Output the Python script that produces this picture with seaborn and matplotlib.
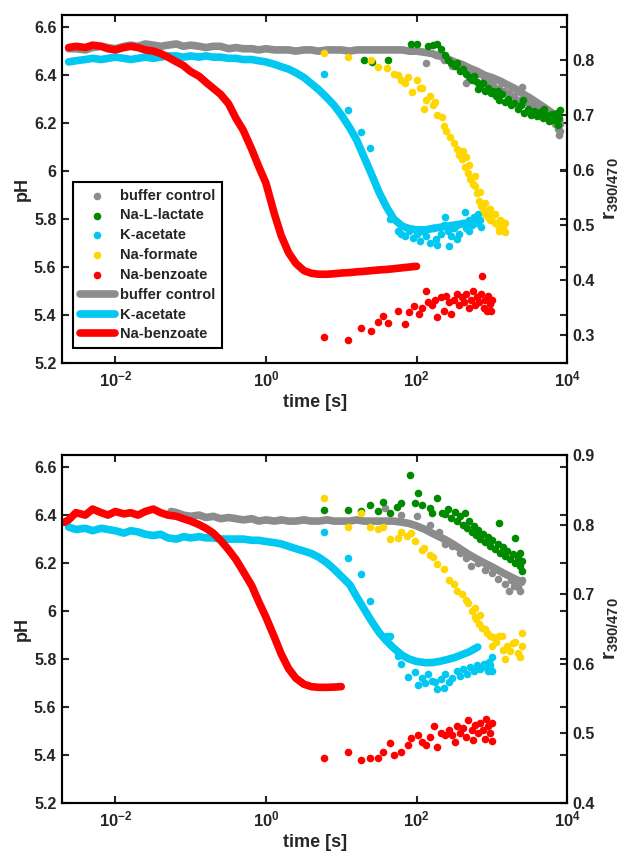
import matplotlib
matplotlib.use('Agg')
import numpy as np
import pandas as pd
import seaborn as sns
import matplotlib.pyplot as plt
import matplotlib.ticker as ticker

#%% data - thick traces (pH, left axis) and single readings (r390/470, right axis)

# common time grid of the thick traces [s]
T_LINE = [0.0024, 0.003, 0.004, 0.005, 0.0065, 0.008, 0.01, 0.013, 0.016, 0.02,
          0.025, 0.032, 0.04, 0.05, 0.065, 0.08, 0.1, 0.13, 0.16, 0.2,
          0.25, 0.32, 0.4, 0.5, 0.65, 0.8, 1, 1.3, 1.6, 2,
          2.5, 3.2, 4, 5, 6.5, 8, 10, 13, 16, 20,
          25, 32, 40, 50, 65, 80, 100, 130, 160, 200,
          250, 320, 400, 500, 650, 800, 1000, 1300, 1600, 2000,
          2500, 3200, 4000, 5000, 6500, 8000]

# top panel traces
ph_gray_top = [6.51, 6.51, 6.505, 6.515, 6.52, 6.515, 6.51, 6.52, 6.525, 6.52,
               6.53, 6.525, 6.52, 6.525, 6.53, 6.52, 6.525, 6.52, 6.515, 6.52,
               6.52, 6.51, 6.515, 6.51, 6.51, 6.505, 6.51, 6.505, 6.505, 6.505,
               6.5, 6.505, 6.505, 6.5, 6.505, 6.505, 6.505, 6.5, 6.505, 6.505,
               6.505, 6.505, 6.505, 6.505, 6.505, 6.5, 6.5, 6.495, 6.49, 6.48,
               6.47, 6.455, 6.445, 6.43, 6.415, 6.4, 6.39, 6.375, 6.36, 6.345,
               6.325, 6.305, 6.285, 6.265, 6.24, 6.21]
ph_cyan_top = [6.455, 6.46, 6.465, 6.47, 6.465, 6.47, 6.475, 6.47, 6.465, 6.47,
               6.475, 6.47, 6.475, 6.48, 6.48, 6.475, 6.48, 6.475, 6.48, 6.475,
               6.475, 6.47, 6.47, 6.465, 6.465, 6.46, 6.455, 6.445, 6.435, 6.425,
               6.41, 6.39, 6.365, 6.34, 6.305, 6.275, 6.235, 6.18, 6.13, 6.06,
               5.99, 5.91, 5.85, 5.8, 5.77, 5.76, 5.755, 5.755, 5.76, 5.765,
               5.77, 5.775, 5.78, 5.785, 5.79]
ph_red_top = [6.515, 6.52, 6.515, 6.525, 6.52, 6.51, 6.505, 6.515, 6.52, 6.515,
              6.505, 6.5, 6.49, 6.475, 6.455, 6.44, 6.415, 6.395, 6.37, 6.345,
              6.32, 6.28, 6.22, 6.17, 6.09, 6.02, 5.95, 5.82, 5.73, 5.66,
              5.615, 5.585, 5.574, 5.57, 5.57, 5.572, 5.575, 5.577, 5.58, 5.582,
              5.585, 5.588, 5.59, 5.593, 5.597, 5.6, 5.603]

# bottom panel traces
t_gray_bot = [0.055] + T_LINE[14:61]
ph_gray_bot = [6.415, 6.41, 6.4, 6.395, 6.4, 6.39, 6.395, 6.385, 6.39, 6.385,
               6.38, 6.385, 6.375, 6.38, 6.375, 6.38, 6.375, 6.375, 6.38, 6.375,
               6.375, 6.38, 6.375, 6.375, 6.375, 6.38, 6.375, 6.375, 6.375, 6.375,
               6.375, 6.37, 6.365, 6.355, 6.34, 6.325, 6.31, 6.295, 6.275, 6.255,
               6.235, 6.215, 6.2, 6.185, 6.165, 6.15, 6.135, 6.12]
ph_cyan_bot = [6.35, 6.34, 6.345, 6.335, 6.345, 6.34, 6.335, 6.325, 6.335, 6.33,
               6.32, 6.315, 6.32, 6.305, 6.3, 6.31, 6.305, 6.31, 6.305, 6.305,
               6.3, 6.3, 6.3, 6.3, 6.295, 6.295, 6.29, 6.285, 6.28, 6.27,
               6.26, 6.25, 6.24, 6.225, 6.2, 6.175, 6.145, 6.11, 6.06, 6.01,
               5.96, 5.91, 5.875, 5.845, 5.815, 5.8, 5.79, 5.785, 5.785, 5.79,
               5.797, 5.806, 5.818, 5.83, 5.85]
t_red_bot = [0.0021] + T_LINE[:37]
ph_red_bot = [6.37, 6.38, 6.41, 6.4, 6.425, 6.41, 6.4, 6.415, 6.405, 6.41, 6.4,
              6.415, 6.425, 6.41, 6.4, 6.395, 6.385, 6.375, 6.36, 6.345, 6.325,
              6.295, 6.255, 6.215, 6.165, 6.105, 6.04, 5.975, 5.89, 5.82, 5.76,
              5.72, 5.695, 5.685, 5.682, 5.682, 5.683, 5.685]

# top panel single readings (time [s], r390/470)
t_gray_dots_top = [135, 180, 230, 300, 380, 460, 550, 650, 780, 900, 1050, 1250, 1450, 1700, 2000,
                   2300, 2500, 2800, 3200, 3700, 4300, 5000, 5800, 6500, 7000, 7500, 7800, 8000, 8000]
r_gray_dots_top = [0.795, 0.81, 0.80, 0.79, 0.785, 0.758, 0.78, 0.775, 0.768, 0.762, 0.755, 0.75, 0.745, 0.74, 0.735,
                   0.728, 0.751, 0.725, 0.72, 0.715, 0.71, 0.705, 0.70, 0.69, 0.685, 0.675, 0.665, 0.672, 0.685]
t_green_top = [20, 26, 42, 85, 100, 140, 165, 185, 210, 240, 260, 290, 320, 350, 380, 420, 460, 500, 540, 580,
               640, 700, 760, 820, 900, 980, 1050, 1150, 1250, 1350, 1500, 1650, 1800, 2000, 2200, 2450, 2700,
               3000, 3300, 3600, 4000, 4400, 4800, 5300, 5800, 6300, 6800, 7300, 7700, 8000, 7600, 5000, 2600,
               1200, 650]
r_green_top = [0.80, 0.797, 0.80, 0.83, 0.83, 0.826, 0.828, 0.83, 0.82, 0.81, 0.80, 0.795, 0.79, 0.795, 0.78,
               0.785, 0.775, 0.77, 0.765, 0.772, 0.76, 0.752, 0.758, 0.745, 0.75, 0.74, 0.745, 0.735, 0.728,
               0.738, 0.725, 0.73, 0.718, 0.722, 0.712, 0.718, 0.705, 0.712, 0.70, 0.708, 0.698, 0.706, 0.695,
               0.70, 0.69, 0.702, 0.692, 0.705, 0.695, 0.71, 0.682, 0.712, 0.728, 0.745, 0.748]
t_cyan_top = [5.9, 12.3, 18.5, 24, 45, 57, 62, 70, 80, 90, 100, 110, 120, 135, 150, 165, 180, 190, 210, 230,
              240, 260, 270, 290, 310, 340, 370, 400, 440, 460, 500, 540, 580, 620, 660, 700, 720, 500, 350]
r_cyan_top = [0.775, 0.71, 0.67, 0.64, 0.511, 0.49, 0.485, 0.48, 0.49, 0.478, 0.485, 0.472, 0.49, 0.48, 0.468,
              0.495, 0.476, 0.465, 0.485, 0.50, 0.515, 0.49, 0.462, 0.48, 0.495, 0.50, 0.485, 0.505, 0.524,
              0.495, 0.51, 0.50, 0.515, 0.505, 0.52, 0.51, 0.498, 0.49, 0.475]
t_yellow_top = [5.9, 12.3, 25, 31, 40, 50, 57, 63, 70, 78, 86, 100, 110, 118, 125, 135, 150, 165, 175, 190,
                215, 230, 250, 280, 310, 340, 370, 400, 440, 480, 520, 560, 590, 630, 680, 720, 760, 800, 850,
                900, 950, 1000, 1100, 1200, 1300, 1350, 1400, 1450, 1500, 1500, 1250, 800, 700, 600, 500, 450,
                420, 1100, 950]
r_yellow_top = [0.813, 0.806, 0.80, 0.788, 0.786, 0.775, 0.773, 0.765, 0.758, 0.77, 0.742, 0.764, 0.75, 0.75,
                0.712, 0.728, 0.735, 0.718, 0.725, 0.70, 0.697, 0.68, 0.672, 0.66, 0.65, 0.638, 0.628, 0.62,
                0.607, 0.595, 0.585, 0.575, 0.571, 0.558, 0.545, 0.535, 0.53, 0.52, 0.525, 0.515, 0.51, 0.517,
                0.505, 0.50, 0.51, 0.506, 0.495, 0.49, 0.488, 0.505, 0.49, 0.54, 0.56, 0.59, 0.61, 0.625, 0.635,
                0.52, 0.53]
t_red_top = [5.9, 12.3, 18.5, 25, 31, 36, 42, 57, 70, 80, 94, 108, 120, 135, 140, 160, 175, 190, 210, 230,
             250, 270, 290, 310, 340, 370, 400, 430, 460, 500, 530, 560, 600, 640, 680, 720, 740, 780, 820,
             860, 900, 950, 1000, 980]
r_red_top = [0.298, 0.291, 0.313, 0.309, 0.325, 0.336, 0.322, 0.345, 0.32, 0.342, 0.354, 0.339, 0.35, 0.381,
             0.36, 0.355, 0.365, 0.334, 0.37, 0.345, 0.372, 0.36, 0.339, 0.365, 0.375, 0.355, 0.37, 0.36,
             0.375, 0.35, 0.365, 0.38, 0.355, 0.37, 0.36, 0.375, 0.408, 0.35, 0.365, 0.345, 0.372, 0.358,
             0.365, 0.345]

# bottom panel single readings
t_gray_dots_bot = [38, 63, 100, 150, 200, 230, 240, 300, 380, 450, 530, 650, 800, 1000, 1200, 1500, 1700,
                   2000, 2200, 2400, 2500, 1800]
r_gray_dots_bot = [0.824, 0.814, 0.812, 0.80, 0.79, 0.779, 0.772, 0.77, 0.76, 0.752, 0.74, 0.745, 0.735,
                   0.73, 0.722, 0.715, 0.704, 0.712, 0.711, 0.705, 0.72, 0.72]
t_green_bot = [5.9, 12.3, 18.5, 24, 31, 36, 45, 55, 63, 81, 95, 106, 118, 150, 160, 185, 215, 240, 260, 290,
               320, 350, 380, 420, 440, 470, 500, 540, 580, 620, 660, 700, 760, 820, 880, 950, 1020, 1100,
               1230, 1200, 1300, 1400, 1500, 1600, 1750, 1900, 2050, 2050, 2200, 2350, 2500, 2500, 2400]
r_green_bot = [0.821, 0.821, 0.819, 0.829, 0.819, 0.833, 0.817, 0.825, 0.831, 0.871, 0.831, 0.846, 0.829,
               0.824, 0.817, 0.838, 0.817, 0.815, 0.822, 0.81, 0.818, 0.805, 0.812, 0.80, 0.817, 0.795, 0.805,
               0.79, 0.798, 0.785, 0.792, 0.78, 0.787, 0.775, 0.782, 0.77, 0.778, 0.765, 0.803, 0.772, 0.76,
               0.768, 0.755, 0.762, 0.75, 0.758, 0.781, 0.745, 0.752, 0.74, 0.748, 0.733, 0.76]
t_cyan_bot = [5.9, 12.3, 18.5, 24, 40, 45, 57, 63, 78, 95, 106, 120, 140, 160, 175, 190, 210, 240, 270, 300,
              340, 380, 420, 470, 520, 580, 640, 700, 780, 850, 905, 950, 1000, 900, 1000, 230, 130]
r_cyan_bot = [0.79, 0.752, 0.729, 0.69, 0.64, 0.64, 0.611, 0.60, 0.581, 0.588, 0.569, 0.58, 0.585, 0.575,
              0.574, 0.564, 0.578, 0.585, 0.574, 0.58, 0.59, 0.582, 0.592, 0.585, 0.595, 0.59, 0.598, 0.592,
              0.60, 0.595, 0.603, 0.598, 0.61, 0.59, 0.59, 0.565, 0.572]
t_yellow_bot = [5.9, 12.3, 18.5, 24, 31, 36, 45, 57, 63, 75, 85, 95, 118, 125, 150, 165, 190, 230, 270, 310,
                350, 400, 450, 490, 540, 590, 620, 680, 750, 800, 870, 950, 1050, 1150, 1250, 1350, 1500, 1600,
                1750, 1900, 2050, 2200, 2400, 2500, 2500, 1400, 1000, 700, 600]
r_yellow_bot = [0.838, 0.797, 0.817, 0.796, 0.794, 0.797, 0.779, 0.781, 0.79, 0.784, 0.788, 0.776, 0.764,
                0.767, 0.757, 0.753, 0.743, 0.736, 0.721, 0.715, 0.705, 0.70, 0.692, 0.688, 0.676, 0.668,
                0.664, 0.657, 0.652, 0.65, 0.645, 0.64, 0.638, 0.632, 0.64, 0.64, 0.607, 0.625, 0.618, 0.63,
                0.631, 0.615, 0.61, 0.625, 0.645, 0.62, 0.625, 0.67, 0.68]
t_red_bot_dots = [5.9, 12.3, 18.5, 24, 31, 36, 45, 51, 63, 78, 85, 106, 120, 135, 150, 170, 190, 210, 240,
                  270, 300, 340, 380, 420, 460, 490, 540, 600, 650, 700, 760, 850, 900, 950, 1000, 1000, 800,
                  560, 320]
r_red_bot_dots = [0.464, 0.473, 0.462, 0.464, 0.465, 0.473, 0.486, 0.469, 0.473, 0.483, 0.493, 0.497, 0.487,
                  0.483, 0.495, 0.511, 0.481, 0.50, 0.497, 0.505, 0.498, 0.51, 0.50, 0.508, 0.495, 0.519, 0.505,
                  0.512, 0.50, 0.515, 0.505, 0.521, 0.51, 0.50, 0.489, 0.515, 0.492, 0.49, 0.488]

GRAY, GREEN, CYAN, YELLOW, RED = '#8c8c8c', '#008a00', '#00c8f0', '#ffd700', '#ff0000'

#%% style
sns.set_theme(style='white')
plt.rcParams['font.family'] = ['Liberation Sans', 'DejaVu Sans']
plt.rcParams['font.weight'] = 'bold'
plt.rcParams['axes.labelweight'] = 'bold'
plt.rcParams['mathtext.fontset'] = 'custom'
plt.rcParams['mathtext.rm'] = 'Liberation Sans:bold'
plt.rcParams['mathtext.bf'] = 'Liberation Sans:bold'
plt.rcParams['mathtext.it'] = 'Liberation Sans:bold'

fig = plt.figure(figsize=(6.29, 8.61), dpi=100)
ax_top = fig.add_axes([0.0986, 0.5784, 0.803, 0.404])
ax_bot = fig.add_axes([0.0986, 0.0674, 0.803, 0.404])


def style_panel(ax, ax2, rlim, rticks):
    ax.set_xscale('log')
    ax.set_xlim(1.96e-3, 1e4)
    ax.set_ylim(5.2, 6.65)
    ax.set_yticks([5.2, 5.4, 5.6, 5.8, 6.0, 6.2, 6.4, 6.6])
    ax.yaxis.set_major_formatter(ticker.FormatStrFormatter('%g'))
    ax.set_xticks([1e-2, 1e0, 1e2, 1e4])
    ax.set_xticklabels([r'$\mathbf{10^{-2}}$', r'$\mathbf{10^{0}}$', r'$\mathbf{10^{2}}$', r'$\mathbf{10^{4}}$'])
    ax.xaxis.set_minor_locator(ticker.NullLocator())
    ax.yaxis.set_ticks_position('both')
    ax.xaxis.set_ticks_position('both')
    ax.tick_params(axis='both', direction='in', length=5, width=1.5, labelsize=11.5, pad=4,
                   labelright=False, labeltop=False)
    ax.tick_params(axis='x', pad=5, labelsize=12)
    ax.set_xlabel('time [s]', fontsize=13, labelpad=3)
    ax.set_ylabel('pH', fontsize=13, labelpad=2)
    ax2.set_ylim(*rlim)
    ax2.set_yticks(rticks)
    ax2.yaxis.set_major_formatter(ticker.FormatStrFormatter('%g'))
    ax2.tick_params(axis='y', direction='in', length=5, width=1.5, labelsize=11.5, pad=4, right=True)
    ax2.set_ylabel(r'$\mathbf{r_{390/470}}$', fontsize=15, labelpad=5)
    for a in (ax, ax2):
        for sp in a.spines.values():
            sp.set_color('black')
            sp.set_linewidth(1.5)
    ax2.grid(False)
    ax.grid(False)


#%% top panel
ax2_top = ax_top.twinx()
sns.lineplot(x=T_LINE, y=ph_gray_top, ax=ax_top, color=GRAY, linewidth=5.5, label='buffer control')
sns.lineplot(x=T_LINE[:55], y=ph_cyan_top, ax=ax_top, color=CYAN, linewidth=5.5, label='K-acetate')
sns.lineplot(x=T_LINE[:47], y=ph_red_top, ax=ax_top, color=RED, linewidth=5.5, label='Na-benzoate')

dot_kw = dict(s=30, linewidth=0, alpha=1)
sns.scatterplot(x=t_gray_dots_top, y=r_gray_dots_top, ax=ax2_top, color=GRAY, label='buffer control', **dot_kw)
sns.scatterplot(x=t_green_top, y=r_green_top, ax=ax2_top, color=GREEN, label='Na-L-lactate', **dot_kw)
sns.scatterplot(x=t_cyan_top, y=r_cyan_top, ax=ax2_top, color=CYAN, label='K-acetate', **dot_kw)
sns.scatterplot(x=t_yellow_top, y=r_yellow_top, ax=ax2_top, color=YELLOW, label='Na-formate', **dot_kw)
sns.scatterplot(x=t_red_top, y=r_red_top, ax=ax2_top, color=RED, label='Na-benzoate', **dot_kw)

style_panel(ax_top, ax2_top, (0.25, 0.882), [0.3, 0.4, 0.5, 0.6, 0.7, 0.8])

h_dots, l_dots = ax2_top.get_legend_handles_labels()
h_lines, l_lines = ax_top.get_legend_handles_labels()
ax_top.get_legend().remove()
leg = ax2_top.legend(h_dots + h_lines, l_dots + l_lines, loc='lower left', bbox_to_anchor=(0.022, 0.043),
                     borderaxespad=0, frameon=True, fancybox=False, edgecolor='black', framealpha=1,
                     fontsize=10.5, handlelength=2.4, labelspacing=0.4, borderpad=0.45, handletextpad=0.35)
leg.get_frame().set_linewidth(1.5)

#%% bottom panel
ax2_bot = ax_bot.twinx()
sns.lineplot(x=t_gray_bot, y=ph_gray_bot, ax=ax_bot, color=GRAY, linewidth=5.5)
sns.lineplot(x=T_LINE[:55], y=ph_cyan_bot, ax=ax_bot, color=CYAN, linewidth=5.5)
sns.lineplot(x=t_red_bot, y=ph_red_bot, ax=ax_bot, color=RED, linewidth=5.5)

sns.scatterplot(x=t_gray_dots_bot, y=r_gray_dots_bot, ax=ax2_bot, color=GRAY, **dot_kw)
sns.scatterplot(x=t_green_bot, y=r_green_bot, ax=ax2_bot, color=GREEN, **dot_kw)
sns.scatterplot(x=t_cyan_bot, y=r_cyan_bot, ax=ax2_bot, color=CYAN, **dot_kw)
sns.scatterplot(x=t_yellow_bot, y=r_yellow_bot, ax=ax2_bot, color=YELLOW, **dot_kw)
sns.scatterplot(x=t_red_bot_dots, y=r_red_bot_dots, ax=ax2_bot, color=RED, **dot_kw)

style_panel(ax_bot, ax2_bot, (0.4, 0.9), [0.4, 0.5, 0.6, 0.7, 0.8, 0.9])

plt.savefig('out.png', dpi=100)
